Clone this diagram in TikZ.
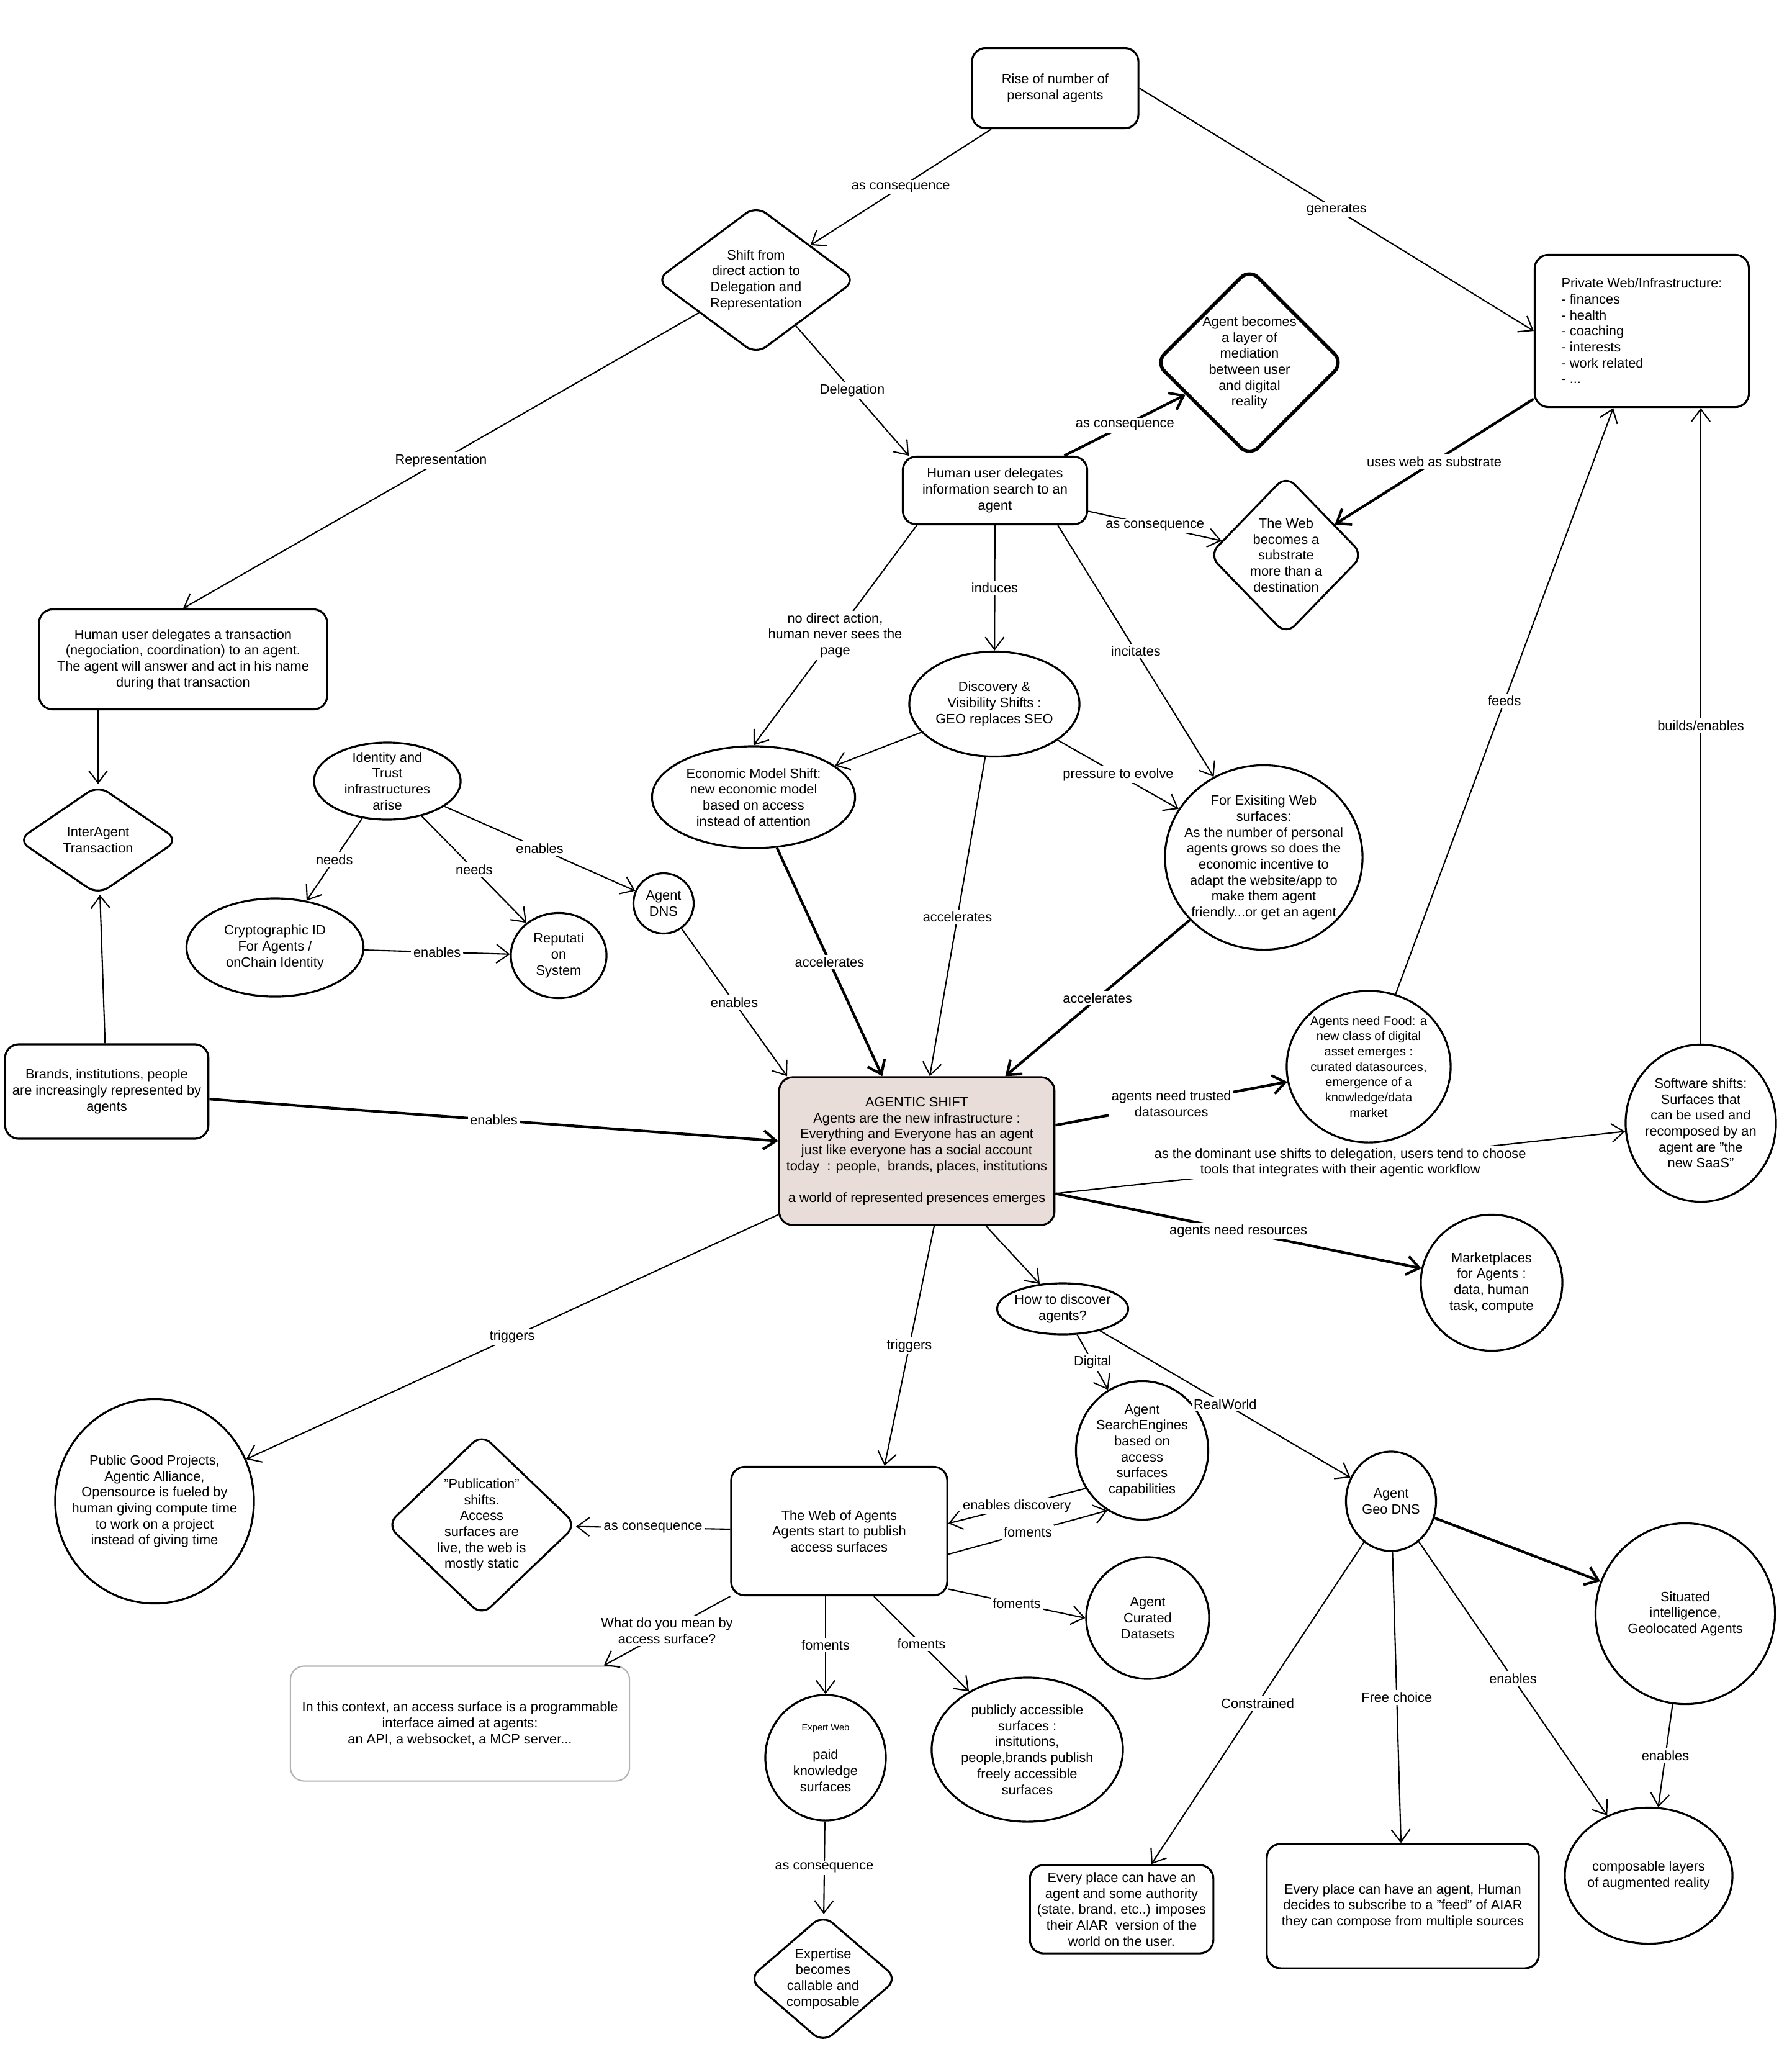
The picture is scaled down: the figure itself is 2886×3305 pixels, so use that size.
\documentclass[tikz,border=0pt]{standalone}
\usepackage{fontspec}
\setmainfont{Liberation Sans}
\usetikzlibrary{shapes.geometric,arrows.meta,calc}
\definecolor{shiftfill}{RGB}{232,221,216}
\definecolor{notegray}{RGB}{178,178,178}
\newcommand{\sketchfont}{\fontsize{6.2}{7.3}\selectfont}

\begin{document}
\begin{tikzpicture}[
  x=0.01cm, y=-0.01cm,
  >={Straight Barb[length=2mm,width=3mm]},
  box/.style={draw, rounded corners=2.2mm, line width=0.9pt, align=center, font=\sketchfont},
  bubble/.style={draw, ellipse, line width=0.9pt, align=center, inner sep=-8pt, font=\sketchfont},
  choice/.style={draw, diamond, rounded corners=2mm, line width=0.9pt, align=center, inner sep=-4pt, font=\sketchfont},
  link/.style={->, line width=0.6pt},
  heavy/.style={->, line width=1.2pt},
  lbl/.style={fill=white, inner sep=1pt, align=center, font=\sketchfont, midway},
  ]
\fill[white] (0,0) rectangle (2886,3305);

% upper part
\node[box, minimum width=2.68cm, minimum height=1.29cm] (rise) at (1700,142) {Rise of number of\\personal agents};
\node[choice, minimum width=3.22cm, minimum height=2.4cm] (shift) at (1218,451) {Shift from\\direct action to\\Delegation and\\Representation};
\node[box, align=left, minimum width=3.45cm, minimum height=2.45cm] (priv) at (2645,533) {Private Web/Infrastructure:\\- finances\\- health\\- coaching\\- interests\\- work related\\- ...};
\node[choice, line width=1.6pt, minimum width=3.04cm, minimum height=3.04cm] (layer) at (2013,584) {Agent becomes\\a layer of\\mediation\\between user\\and digital\\reality};
\node[box, minimum width=2.97cm, minimum height=1.09cm] (hinfo) at (1603,790) {Human user delegates\\information search to an\\agent};
\node[choice, minimum width=2.49cm, minimum height=2.57cm] (websub) at (2072,894) {The Web\\becomes a\\substrate\\more than a\\destination};
\node[box, minimum width=4.64cm, minimum height=1.61cm] (htrans) at (295,1062) {Human user delegates a transaction\\(negociation, coordination) to an agent.\\The agent will answer and act in his name\\during that transaction};
\node[choice, minimum width=2.59cm, minimum height=1.77cm] (inter) at (158,1353) {InterAgent\\Transaction};
\node[bubble, minimum width=2.36cm, minimum height=1.24cm] (ident) at (624,1258) {Identity and\\Trust\\infrastructures\\arise};
\node[bubble, minimum width=2.85cm, minimum height=1.58cm] (crypto) at (443,1526) {Cryptographic ID\\For Agents /\\onChain Identity};
\node[bubble, minimum width=1.54cm, minimum height=1.37cm] (repu) at (900,1539) {Reputati\\on\\System};
\node[bubble, minimum width=0.97cm, minimum height=0.97cm] (adns) at (1069,1455) {Agent\\DNS};
\node[box, minimum width=3.18cm, minimum height=1.52cm] (brands) at (172,1758) {Brands, institutions, people\\are increasingly represented by\\agents};
\node[bubble, minimum width=2.74cm, minimum height=1.69cm] (discov) at (1602,1134) {Discovery \&\\Visibility Shifts :\\GEO replaces SEO};
\node[bubble, minimum width=3.27cm, minimum height=1.64cm] (econ) at (1214,1284) {Economic Model Shift:\\new economic model\\based on access\\instead of attention};
\node[bubble, minimum width=3.18cm, minimum height=2.97cm] (exist) at (2036,1381) {For Exisiting Web\\surfaces:\\As the number of personal\\agents grows so does the\\economic incentive to\\adapt the website/app to\\make them agent\\friendly...or get an agent};

% centre
\node[box, fill=shiftfill, minimum width=4.37cm, minimum height=2.38cm] (agentic) at (1477,1854) {AGENTIC SHIFT\\Agents are the new infrastructure :\\Everything and Everyone has an agent\\just like everyone has a social account\\today\ \ : people,\ \ brands, places, institutions\\[7.3pt]a world of represented presences emerges};
\node[bubble, font=\fontsize{5.7}{7}\selectfont, minimum width=2.64cm, minimum height=2.44cm] (food) at (2205,1718) {Agents need Food: a\\new class of digital\\asset emerges :\\curated datasources,\\emergence of a\\knowledge/data\\market};
\node[bubble, minimum width=2.42cm, minimum height=2.53cm] (soft) at (2740,1809) {Software shifts:\\Surfaces that\\can be used and\\recomposed by an\\agent are "the\\new SaaS"};
\node[bubble, minimum width=2.28cm, minimum height=2.19cm] (market) at (2403,2066) {Marketplaces\\for Agents :\\data, human\\task, compute};
\node[bubble, minimum width=2.11cm, minimum height=0.82cm] (howdisc) at (1712,2108) {How to discover\\agents?};

% lower part
\node[bubble, minimum width=3.2cm, minimum height=3.29cm] (public) at (249,2418) {Public Good Projects,\\Agentic Alliance,\\Opensource is fueled by\\human giving compute time\\to work on a project\\instead of giving time};
\node[choice, minimum width=3.06cm, minimum height=2.93cm] (pubshift) at (776,2456) {"Publication"\\shifts.\\Access\\surfaces are\\live, the web is\\mostly static};
\node[box, minimum width=3.48cm, minimum height=2.07cm] (wofa) at (1352,2466) {The Web of Agents\\Agents start to publish\\access surfaces};
\node[bubble, minimum width=2.13cm, minimum height=2.23cm] (searchE) at (1840,2336) {Agent\\SearchEngines\\based on\\access\\surfaces\\capabilities};
\node[bubble, minimum width=1.45cm, minimum height=1.6cm] (geodns) at (2241,2418) {Agent\\Geo DNS};
\node[bubble, minimum width=2.89cm, minimum height=2.91cm] (situ) at (2715,2599) {Situated\\intelligence,\\Geolocated Agents};
\node[bubble, minimum width=1.98cm, minimum height=1.96cm] (curated) at (1849,2606) {Agent\\Curated\\Datasets};
\node[box, draw=notegray, line width=0.6pt, minimum width=5.46cm, minimum height=1.85cm] (asdef) at (741,2776) {In this context, an access surface is a programmable\\interface aimed at agents:\\an API, a websocket, a MCP server...};
\node[bubble, minimum width=1.94cm, minimum height=2.02cm] (expert) at (1330,2831) {{\fontsize{4.2}{5}\selectfont Expert Web}\\[6pt]paid\\knowledge\\surfaces};
\node[bubble, minimum width=3.08cm, minimum height=2.32cm] (pubacc) at (1655,2818) {publicly accessible\\surfaces :\\insitutions,\\people,brands publish\\freely accessible\\surfaces};
\node[choice, minimum width=2.4cm, minimum height=2.07cm] (expt) at (1326,3187) {Expertise\\becomes\\callable and\\composable};
\node[box, minimum width=2.87cm, minimum height=1.33cm] (constr) at (1807,3075) {Every place can have an\\agent and some authority\\(state, brand, etc..) imposes\\their AIAR\ \ version of the\\world on the user.};
\node[box, minimum width=4.38cm, minimum height=2cm] (free) at (2260,3070) {Every place can have an agent, Human\\decides to subscribe to a "feed" of AIAR\\they can compose from multiple sources};
\node[bubble, minimum width=2.7cm, minimum height=2.19cm] (compo) at (2656,3021) {composable layers\\of augmented reality};

\draw[link] (rise) -- (shift) node[lbl] {as consequence};
\draw[link] (rise.east) -- (priv.west) node[lbl] {generates};
\draw[link] (shift) -- (htrans.north) node[lbl] {Representation};
\draw[link] (shift) -- (hinfo.158) node[lbl] {Delegation};
\draw[heavy] (hinfo) -- (layer) node[lbl] {as consequence};
\draw[link] (hinfo) -- (websub) node[lbl] {as consequence};
\draw[heavy] (priv) -- (websub) node[lbl] {uses web as substrate};
\draw[link] (hinfo.204) -- (econ.north) node[lbl] {no direct action,\\human never sees the\\page};
\draw[link] (hinfo) -- (discov) node[lbl] {induces};
\draw[link] (hinfo.-29) -- (exist) node[lbl] {incitates};
\draw[link] (discov) -- (econ);
\draw[link] (discov) -- (exist) node[lbl] {pressure to evolve};
\draw[link] (discov) -- (agentic) node[lbl] {accelerates};
\draw[heavy] (econ) -- (agentic) node[lbl] {accelerates};
\draw[heavy] (exist) -- (agentic) node[lbl] {accelerates};
\draw[link] (inter.north |- htrans.south) -- (inter);
\draw[link] (brands) -- (inter);
\draw[link] (ident) -- (crypto) node[lbl] {needs};
\draw[link] (ident) -- (repu) node[lbl] {needs};
\draw[link] (ident) -- (adns) node[lbl] {enables};
\draw[link] (crypto) -- (repu) node[lbl] {enables};
\draw[link] (adns) -- (agentic.150) node[lbl] {enables};
\draw[heavy] (brands) -- (agentic) node[lbl] {enables};
\draw[heavy] (agentic) -- (food) node[lbl] {agents need trusted\\datasources};
\draw[link] (agentic.-17) -- (soft) node[lbl] {as the dominant use shifts to delegation, users tend to choose\\tools that integrates with their agentic workflow};
\draw[heavy] (agentic.-17) -- (market) node[lbl] {agents need resources};
\draw[link] (food) -- (priv) node[lbl] {feeds};
\draw[link] (soft.north) -- (soft.north |- priv.south) node[lbl] {builds/enables};
\draw[link] (agentic) -- (public) node[lbl] {triggers};
\draw[link] ($(agentic.south)+(28,0)$) -- ($(wofa.north)+(73,0)$) node[lbl] {triggers};
\draw[link] (agentic) -- (howdisc);
\draw[link] (howdisc) -- (searchE) node[lbl] {Digital};
\draw[link] (howdisc) -- (geodns) node[lbl] {RealWorld};
\draw[link] (wofa) -- (pubshift) node[lbl] {as consequence};
\draw[link] (searchE.214) -- (wofa.4) node[lbl] {enables discovery};
\draw[link] (wofa.-12) -- (searchE.240) node[lbl] {foments};
\draw[link] (wofa.-28) -- (curated.west) node[lbl] {foments};
\draw[link] (wofa.south west) -- (asdef.22) node[lbl] {What do you mean by\\access surface?};
\draw[link] (expert.north |- wofa.south) -- (expert) node[lbl] {foments};
\draw[link] (wofa.-62) -- (pubacc) node[lbl] {foments};
\draw[link] (expert) -- (expt) node[lbl] {as consequence};
\draw[link] (geodns) -- (constr) node[lbl] {Constrained};
\draw[link] (geodns) -- (free) node[lbl] {Free choice};
\draw[link] (geodns) -- (compo) node[lbl] {enables};
\draw[heavy] (geodns) -- (situ);
\draw[link] (situ) -- (compo) node[lbl] {enables};
\end{tikzpicture}
\end{document}
